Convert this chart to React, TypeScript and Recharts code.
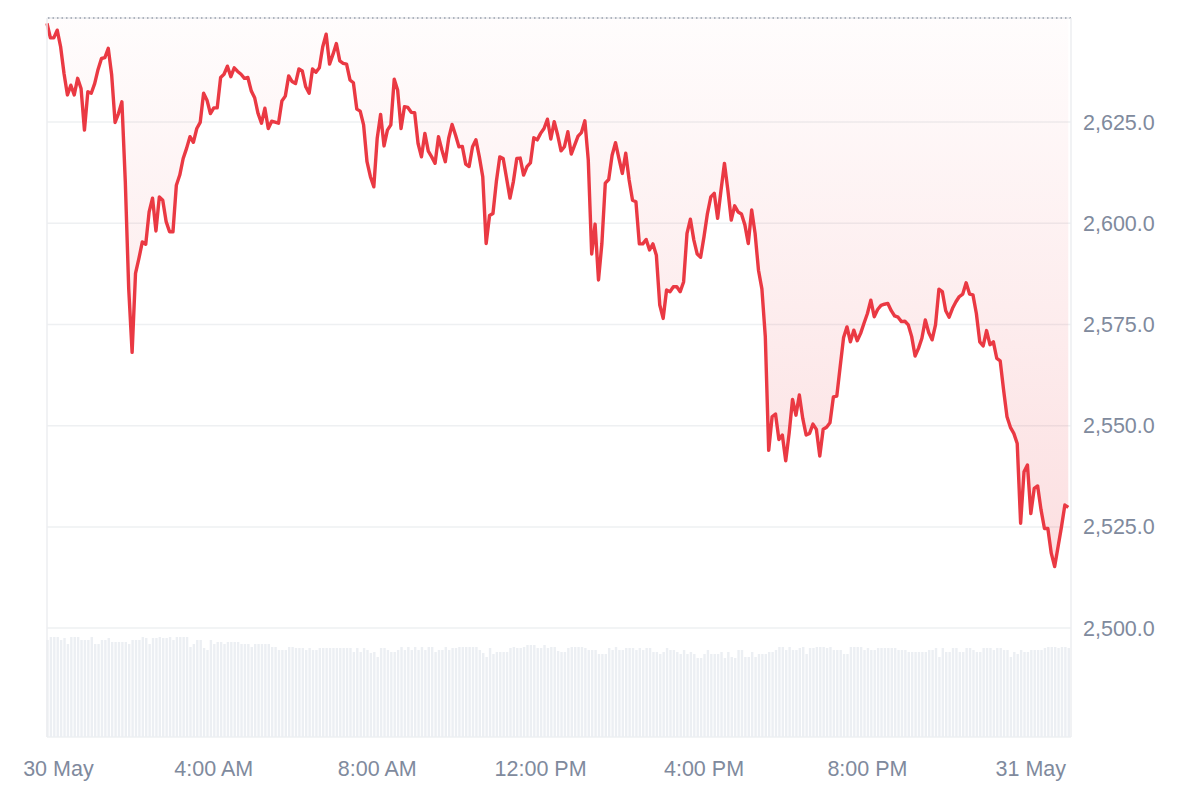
import React from 'react';
import { ComposedChart, Area, Bar, XAxis, YAxis, CartesianGrid, ReferenceLine } from 'recharts';

// 5-minute candles, first one at 23:55 on 29 May (minutes relative to 00:00 30 May)
const startMinute = -5;
const stepMinutes = 5;

const prices = [
  2649.4, 2645.8, 2645.8, 2647.7, 2643.6, 2637.0, 2631.7, 2634.1, 2631.7, 2635.8,
  2633.3, 2623.0, 2632.5, 2632.1, 2634.5, 2638.0, 2640.7, 2640.9, 2643.2, 2636.6,
  2624.9, 2627.1, 2630.0, 2610.3, 2583.9, 2568.1, 2587.6, 2591.3, 2595.4, 2594.8,
  2602.8, 2606.2, 2598.1, 2606.5, 2605.7, 2600.4, 2597.9, 2597.9, 2609.4, 2611.9,
  2616.0, 2618.5, 2621.4, 2620.0, 2623.4, 2624.9, 2632.1, 2630.4, 2627.1, 2628.5,
  2628.5, 2636.0, 2636.8, 2638.8, 2636.2, 2638.4, 2637.5, 2636.8, 2635.8, 2636.0,
  2632.7, 2631.0, 2627.1, 2624.7, 2628.4, 2623.4, 2625.2, 2625.0, 2624.7, 2630.2,
  2631.4, 2636.4, 2635.0, 2634.5, 2638.1, 2637.6, 2633.7, 2632.1, 2638.1, 2637.3,
  2638.4, 2643.6, 2646.7, 2639.3, 2641.7, 2644.4, 2640.1, 2639.5, 2639.3, 2635.4,
  2634.7, 2628.2, 2627.7, 2624.3, 2615.2, 2611.5, 2609.0, 2621.0, 2626.9, 2619.1,
  2623.0, 2624.3, 2635.6, 2632.9, 2623.4, 2628.8, 2628.6, 2627.4, 2627.3, 2619.7,
  2616.4, 2622.2, 2617.8, 2616.4, 2614.8, 2621.4, 2618.1, 2615.2, 2621.0, 2624.4,
  2621.8, 2618.9, 2619.0, 2614.6, 2614.0, 2618.9, 2620.6, 2616.4, 2611.5, 2595.0,
  2601.9, 2602.4, 2610.3, 2616.4, 2616.0, 2611.1, 2606.2, 2610.3, 2616.0, 2616.1,
  2611.9, 2614.0, 2614.9, 2621.1, 2620.6, 2622.2, 2623.4, 2625.7, 2620.8, 2625.1,
  2621.8, 2617.9, 2618.9, 2622.6, 2617.1, 2619.3, 2621.5, 2622.4, 2625.3, 2615.6,
  2592.4, 2599.8, 2586.0, 2595.0, 2609.9, 2610.8, 2616.8, 2619.9, 2616.0, 2612.3,
  2617.3, 2610.7, 2605.7, 2605.3, 2594.9, 2594.9, 2596.0, 2593.4, 2594.9, 2592.1,
  2579.8, 2576.5, 2583.5, 2583.1, 2584.3, 2584.3, 2583.1, 2585.5, 2597.5, 2601.0,
  2595.9, 2592.4, 2591.6, 2596.7, 2602.4, 2606.5, 2607.4, 2601.2, 2608.2, 2614.8,
  2608.2, 2600.8, 2604.3, 2602.8, 2602.3, 2599.6, 2595.0, 2603.3, 2597.5, 2588.4,
  2583.8, 2572.0, 2543.9, 2552.2, 2552.9, 2546.6, 2547.7, 2541.3, 2548.1, 2556.5,
  2552.6, 2557.6, 2551.8, 2547.7, 2548.1, 2550.4, 2549.1, 2542.5, 2549.1, 2549.6,
  2550.7, 2557.1, 2557.3, 2564.6, 2571.8, 2574.4, 2570.7, 2573.6, 2571.0, 2572.8,
  2575.3, 2577.7, 2581.0, 2576.9, 2578.7, 2579.7, 2580.0, 2580.2, 2578.4, 2577.1,
  2576.8, 2575.7, 2575.8, 2574.9, 2572.0, 2567.2, 2569.1, 2571.6, 2576.1, 2573.0,
  2571.2, 2574.9, 2583.7, 2583.1, 2578.4, 2576.8, 2579.0, 2580.6, 2581.9, 2582.5,
  2585.3, 2582.5, 2582.3, 2577.7, 2570.7, 2569.7, 2573.5, 2570.0, 2570.7, 2566.6,
  2566.0, 2558.8, 2552.2, 2549.6, 2548.1, 2545.6, 2525.9, 2538.6, 2540.3, 2528.3,
  2534.5, 2535.1, 2529.2, 2524.6, 2524.6, 2518.5, 2515.2, 2520.1, 2525.0, 2530.4,
  2529.8,
];

// relative volume per candle
const volumes = [
  97, 100, 100, 100, 97, 99, 93, 100, 100, 100,
  97, 97, 97, 100, 93, 93, 97, 97, 99, 95,
  95, 95, 95, 95, 93, 97, 97, 97, 100, 99,
  93, 99, 99, 100, 99, 99, 100, 97, 100, 100,
  100, 100, 90, 93, 97, 97, 89, 87, 97, 93,
  95, 95, 93, 95, 95, 95, 95, 93, 93, 93,
  90, 93, 93, 93, 93, 93, 90, 90, 87, 87,
  87, 90, 90, 89, 89, 89, 87, 89, 87, 87,
  89, 89, 89, 89, 89, 89, 89, 89, 89, 89,
  85, 89, 85, 89, 87, 84, 85, 80, 89, 89,
  87, 85, 85, 87, 90, 87, 90, 87, 90, 87,
  90, 87, 90, 90, 85, 87, 87, 90, 87, 89,
  89, 90, 90, 90, 90, 90, 90, 87, 84, 80,
  89, 83, 85, 85, 85, 85, 89, 90, 89, 89,
  90, 92, 92, 92, 89, 89, 92, 89, 90, 90,
  86, 85, 85, 89, 90, 90, 90, 90, 89, 87,
  87, 87, 83, 83, 83, 89, 87, 90, 87, 87,
  89, 89, 89, 87, 89, 87, 89, 89, 85, 85,
  83, 85, 89, 87, 87, 85, 83, 87, 83, 85,
  83, 79, 79, 83, 87, 83, 83, 83, 85, 79,
  85, 80, 79, 87, 87, 80, 80, 85, 80, 83,
  83, 83, 85, 85, 87, 90, 90, 87, 90, 87,
  87, 89, 90, 83, 89, 89, 90, 90, 90, 89,
  90, 87, 87, 87, 83, 83, 90, 90, 90, 90,
  87, 89, 87, 87, 89, 89, 89, 89, 89, 89,
  87, 87, 87, 85, 85, 85, 85, 85, 85, 87,
  87, 89, 80, 89, 85, 85, 89, 89, 85, 85,
  89, 89, 87, 85, 85, 89, 89, 89, 87, 89,
  89, 87, 87, 80, 85, 83, 87, 85, 85, 87,
  87, 87, 87, 89, 90, 90, 90, 89, 90, 90,
  89,
];

const timeTicks = [0, 240, 480, 720, 960, 1200, 1440];
const timeLabels = ['30 May', '4:00 AM', '8:00 AM', '12:00 PM', '4:00 PM', '8:00 PM', '31 May'];
const priceTicks = [2500, 2525, 2550, 2575, 2600, 2625];
const priceDomain = [2473.1, 2650.7];

const data = prices.map((price, i) => ({
  t: startMinute + i * stepMinutes,
  price,
  volume: volumes[i],
}));

const RED = '#ea3943';
const LABEL = '#808a9d';
const FONT = '"Liberation Sans", Arial, sans-serif';

const fmtPrice = (v: number) =>
  v.toLocaleString('en-US', { minimumFractionDigits: 1, maximumFractionDigits: 1 });

const TimeTick = (props: any) => {
  const { x, y, payload, index } = props;
  const i = timeTicks.indexOf(payload.value);
  return (
    <text
      x={x + (index === 0 ? 8 : 0)}
      y={y}
      dy="0.35em"
      textAnchor="middle"
      fill={LABEL}
      fontSize={21.5}
      fontFamily={FONT}
    >
      {timeLabels[i]}
    </text>
  );
};

const PriceTick = (props: any) => {
  const { x, y, payload } = props;
  return (
    <text x={x} y={y} dy="0.35em" textAnchor="start" fill={LABEL} fontSize={21.5} fontFamily={FONT}>
      {fmtPrice(payload.value)}
    </text>
  );
};

export default function App() {
  return (
    <div style={{ width: 1184, height: 784, background: '#fff' }}>
      <ComposedChart
        width={1184}
        height={784}
        data={data}
        margin={{ top: 10, right: 0, bottom: 0, left: 39 }}
      >
        <defs>
          <linearGradient id="priceFill" x1="0" y1="0" x2="0" y2="1">
            <stop offset="0%" stopColor={RED} stopOpacity={0.02} />
            <stop offset="100%" stopColor={RED} stopOpacity={0.27} />
          </linearGradient>
        </defs>
        <XAxis
          dataKey="t"
          type="number"
          domain={[-5, 1499]}
          ticks={timeTicks}
          axisLine={false}
          tickLine={false}
          tickSize={0}
          tickMargin={31}
          height={55}
          tick={<TimeTick />}
        />
        <YAxis
          yAxisId="price"
          orientation="right"
          type="number"
          domain={priceDomain}
          ticks={priceTicks}
          width={121}
          axisLine={{ stroke: '#eceef1', strokeWidth: 1.5 }}
          tickLine={false}
          tickSize={0}
          tickMargin={12}
          tick={<PriceTick />}
        />
        <YAxis yAxisId="vol" hide domain={[0, 719]} />
        <CartesianGrid yAxisId="price" vertical={false} stroke="#eef0f2" strokeWidth={1.5} />
        <Bar
          yAxisId="vol"
          dataKey="volume"
          fill="#eceff3"
          barSize={2.4}
          isAnimationActive={false}
        />
        <ReferenceLine yAxisId="price" x={-5} stroke="#eceef1" strokeWidth={1.5} />
        <ReferenceLine yAxisId="price" y={priceDomain[1]} stroke="#eceef1" strokeWidth={1.5} />
        <ReferenceLine
          yAxisId="price"
          y={priceDomain[1]}
          stroke="#9aa1ad"
          strokeWidth={1.5}
          strokeDasharray="1.5 3"
        />
        <Area
          yAxisId="price"
          type="linear"
          dataKey="price"
          baseValue="dataMax"
          stroke={RED}
          strokeWidth={3.4}
          strokeLinejoin="round"
          fill="url(#priceFill)"
          dot={false}
          activeDot={false}
          isAnimationActive={false}
        />
      </ComposedChart>
    </div>
  );
}
